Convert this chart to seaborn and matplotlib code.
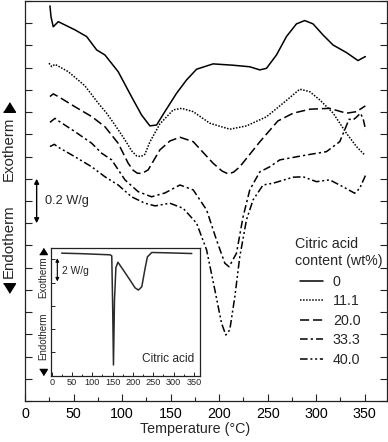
import matplotlib
matplotlib.use("Agg")
import matplotlib.pyplot as plt
from matplotlib.lines import Line2D
from matplotlib.ticker import MultipleLocator
import numpy as np
import pandas as pd
import seaborn as sns

# citric acid content (wt%) of each DSC trace
contents = ["0", "11.1", "20.0", "33.3", "40.0"]

temp_0 = [25.7, 26.8, 29.1, 34.3, 51.5, 63.5, 73.8, 82.4, 96.0, 109.8, 120.1, 128.7, 135.6,
          144.1, 156.2, 166.5, 176.8, 193.8, 214.4, 231.6, 241.9, 248.8, 259.1, 269.4, 279.7,
          288.2, 296.8, 307.1, 317.4, 331.2, 343.1, 350.7]
dsc_0 = [1.778, 1.729, 1.684, 1.707, 1.670, 1.640, 1.580, 1.557, 1.482, 1.369, 1.287, 1.238, 1.242,
         1.302, 1.385, 1.445, 1.493, 1.517, 1.511, 1.504, 1.490, 1.497, 1.557, 1.640, 1.697,
         1.712, 1.697, 1.647, 1.602, 1.568, 1.532, 1.550]

temp_11 = [24.7, 27.5, 30.9, 44.6, 61.8, 75.5, 84.1, 92.7, 103.0, 110.0, 115.0, 119.5, 123.5,
           128.7, 139.0, 152.7, 161.3, 173.3, 190.4, 211.0, 228.2, 248.8, 265.9, 283.1, 293.4,
           303.7, 317.4, 331.2, 341.5, 350.0]
dsc_11 = [1.520, 1.505, 1.515, 1.482, 1.418, 1.340, 1.295, 1.242, 1.175, 1.125, 1.103, 1.100, 1.110,
          1.166, 1.247, 1.310, 1.317, 1.302, 1.250, 1.223, 1.238, 1.279, 1.340, 1.403, 1.392,
          1.355, 1.296, 1.205, 1.145, 1.107]

temp_20 = [25.7, 29.1, 34.3, 51.5, 68.7, 82.4, 96.0, 106.3, 111.5, 115.8, 120.5, 126.9, 139.0,
           149.3, 159.6, 173.3, 193.8, 203.0, 209.3, 215.0, 221.3, 241.9, 260.5, 276.2, 293.4,
           313.9, 331.2, 341.5, 350.7]
dsc_20 = [1.370, 1.382, 1.370, 1.324, 1.280, 1.234, 1.160, 1.070, 1.038, 1.025, 1.024, 1.040, 1.130,
          1.170, 1.187, 1.167, 1.070, 1.035, 1.022, 1.030, 1.054, 1.166, 1.260, 1.295, 1.313,
          1.317, 1.295, 1.302, 1.328]

temp_33 = [25.7, 30.9, 34.3, 51.5, 68.7, 79.0, 89.3, 103.0, 116.6, 130.4, 144.1, 159.6, 173.3,
           187.1, 197.3, 205.9, 210.3, 217.9, 224.7, 231.6, 241.9, 252.2, 262.5, 290.0, 310.6,
           324.3, 329.4, 333.9, 338.0, 341.5, 345.6, 348.3, 351.0]
dsc_33 = [1.254, 1.272, 1.261, 1.212, 1.160, 1.115, 1.085, 0.995, 0.942, 0.919, 0.936, 0.972, 0.950,
          0.860, 0.725, 0.620, 0.604, 0.665, 0.829, 0.950, 1.031, 1.054, 1.085, 1.107, 1.122,
          1.167, 1.220, 1.268, 1.265, 1.277, 1.295, 1.272, 1.220]

temp_40 = [25.7, 30.2, 34.3, 51.5, 68.7, 82.4, 96.0, 109.8, 123.5, 134.1, 149.3, 163.0, 176.8,
           187.1, 195.6, 202.5, 206.9, 211.0, 216.2, 221.3, 228.2, 235.0, 245.3, 255.6, 276.2,
           286.5, 300.3, 314.0, 327.7, 339.7, 344.9, 351.0]
dsc_40 = [1.145, 1.155, 1.142, 1.099, 1.054, 1.009, 0.972, 0.919, 0.890, 0.878, 0.890, 0.867, 0.800,
          0.680, 0.500, 0.350, 0.297, 0.320, 0.469, 0.649, 0.815, 0.905, 0.972, 0.980, 1.007,
          1.009, 0.987, 0.995, 0.964, 0.935, 0.957, 1.017]

# inset: pure citric acid
citric_temp = [24.6, 69.7, 143.6, 147.8, 150.0, 152.0, 154.5, 158.0, 163.0, 176.4, 192.9, 205.2,
               213.3, 221.7, 229.8, 235.5, 246.3, 283.0, 344.8]
citric_dsc = [10.53, 10.49, 10.39, 10.30, 6.0, 0.92, 6.5, 9.3, 9.75, 9.07, 8.21, 7.55,
              7.36, 7.64, 9.22, 10.21, 10.59, 10.56, 10.50]

series = {"0": (temp_0, dsc_0), "11.1": (temp_11, dsc_11), "20.0": (temp_20, dsc_20),
          "33.3": (temp_33, dsc_33), "40.0": (temp_40, dsc_40)}
frames = []
for c in contents:
    t, d = series[c]
    frames.append(pd.DataFrame({"temp": t, "dsc": d, "content": c}))
df = pd.concat(frames, ignore_index=True)

dash_map = {"0": "", "11.1": (1, 1), "20.0": (6, 2.5),
            "33.3": (5, 2, 1.5, 2), "40.0": (5, 1.8, 1.3, 1.8, 1.3, 1.8)}

sns.set_theme(style="ticks")
plt.rcParams["font.family"] = ["Liberation Sans", "DejaVu Sans"]
fs = 10.3
ink = "#222222"

fig = plt.figure(figsize=(3.88, 4.42), dpi=100)
ax = fig.add_axes([25 / 388, 41 / 442, 362 / 388, 400 / 442])

sns.lineplot(data=df, x="temp", y="dsc", style="content", style_order=contents,
             dashes=dash_map, color="black", lw=1.1, sort=False, estimator=None, ax=ax)

ax.set_xlim(0, 373)
ax.set_ylim(0, 1.8)
ax.xaxis.set_major_locator(MultipleLocator(50))
ax.xaxis.set_minor_locator(MultipleLocator(25))
ax.yaxis.set_major_locator(MultipleLocator(0.1))
ax.tick_params(which="both", direction="in", right=True, top=False, color=ink, width=0.8)
ax.tick_params(which="major", length=5, labelsize=fs, pad=4, labelcolor="black")
ax.tick_params(which="minor", length=3)
ax.tick_params(axis="y", labelleft=False)
ax.tick_params(axis="y", which="minor", left=False, right=False)
for s in ax.spines.values():
    s.set_color(ink)
    s.set_linewidth(0.9)

ax.set_ylabel("")
ax.set_xlabel("Temperature (°C)", fontsize=fs)
ax.xaxis.set_label_coords(175 / 373, -0.052)

# 0.2 W/g scale bar
ax.annotate("", xy=(12, 0.8), xytext=(12, 1.0),
            arrowprops=dict(arrowstyle="<|-|>", color="black", lw=1.0,
                            mutation_scale=7, shrinkA=0, shrinkB=0))
ax.text(20.6, 0.9, "0.2 W/g", fontsize=9.2, va="center", ha="left")

# exotherm / endotherm labels with triangle markers
tri_up = [(-1, -0.8), (1, -0.8), (0, 0.8)]
tri_dn = [(-1, 0.8), (1, 0.8), (0, -0.8)]


def side_label(x, y_exo, y_endo, y_up, y_dn, size, msize):
    fig.text(x / 388, 1 - y_exo / 442, "Exotherm", rotation=90, ha="center",
             va="center", fontsize=size)
    fig.text(x / 388, 1 - y_endo / 442, "Endotherm", rotation=90, ha="center",
             va="center", fontsize=size)
    for yy, mk in [(y_up, tri_up), (y_dn, tri_dn)]:
        fig.add_artist(Line2D([x / 388], [1 - yy / 442], marker=mk, markersize=msize,
                              color="black", lw=0, transform=fig.transFigure))


side_label(9, 148.7, 240.8, 106.7, 287.5, 10.8, 8.6)

# legend
handles, labels = ax.get_legend_handles_labels()
leg = ax.legend(handles, labels, loc="upper left", bbox_to_anchor=(300 / 388, 1 - 275 / 442),
                bbox_transform=fig.transFigure, frameon=False, fontsize=fs,
                handlelength=1.6, handletextpad=0.7, labelspacing=0.38, borderpad=0,
                borderaxespad=0)
fig.text(295 / 388, 1 - 252.5 / 442, "Citric acid\ncontent (wt%)", fontsize=fs,
         ha="left", va="center", linespacing=1.3)

# inset: citric acid alone
axin = fig.add_axes([50.7 / 388, (442 - 375.7) / 442, 149.3 / 388, 128 / 442])
axin.set_facecolor("white")
sns.lineplot(x=citric_temp, y=citric_dsc, color="#2a2a2a", lw=1.1, sort=False,
             estimator=None, ax=axin)
axin.set_xlim(-2.5, 365)
axin.set_ylim(0, 11)
axin.xaxis.set_major_locator(MultipleLocator(50))
axin.xaxis.set_minor_locator(MultipleLocator(25))
axin.yaxis.set_major_locator(MultipleLocator(2))
axin.tick_params(which="both", direction="in", color=ink, width=0.7)
axin.tick_params(which="major", length=3, labelsize=6.6, pad=2)
axin.tick_params(which="minor", length=1.8)
axin.tick_params(axis="y", labelleft=False)
for s in axin.spines.values():
    s.set_color(ink)
    s.set_linewidth(0.9)
axin.annotate("", xy=(13.8, 8.1), xytext=(13.8, 10.1),
              arrowprops=dict(arrowstyle="<|-|>", color="black", lw=0.8,
                              mutation_scale=5, shrinkA=0, shrinkB=0))
axin.text(24.6, 9.0, "2 W/g", fontsize=7.4, va="center", ha="left")
axin.text(352, 1.4, "Citric acid", fontsize=8.6, va="center", ha="right")
side_label(43, 277, 336, 251, 372, 7, 5.5)

fig.savefig("out.png", dpi=100)
